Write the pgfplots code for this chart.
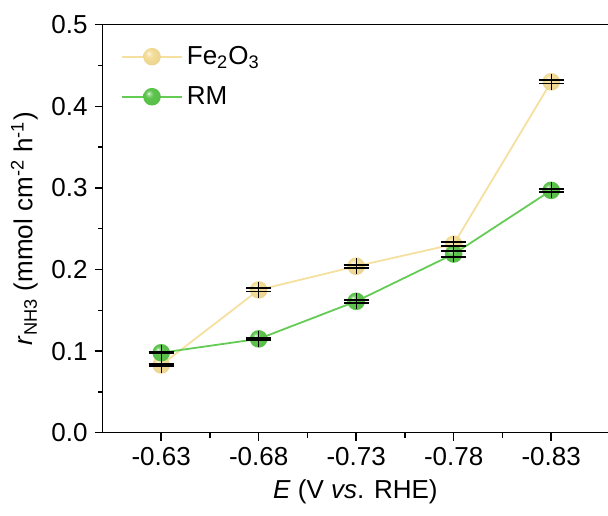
\documentclass[border=0pt]{standalone}
\usepackage{pgfplots}
\pgfplotsset{compat=1.18}
\usepackage{fontspec}
\setmainfont{Liberation Sans}
\usetikzlibrary{plotmarks}
\definecolor{feY}{RGB}{243,220,150}
\definecolor{feL}{RGB}{245,224,160}
\definecolor{rmG}{RGB}{92,196,76}
\definecolor{rmL}{RGB}{100,204,84}
\pgfdeclareradialshading{feshade}{\pgfpoint{-10bp}{10bp}}{color(0bp)=(white); color(4bp)=(feY!60!white); color(12bp)=(feY); color(50bp)=(feY!92!black)}
\pgfdeclareradialshading{rmshade}{\pgfpoint{-10bp}{10bp}}{color(0bp)=(white); color(4bp)=(rmG!60!white); color(12bp)=(rmG); color(50bp)=(rmG!92!black)}
\pgfdeclareplotmark{feball}{\pgfpathcircle{\pgfpointorigin}{\pgfplotmarksize}\pgfshadepath{feshade}{0}\pgfusepath{}}
\pgfdeclareplotmark{rmball}{\pgfpathcircle{\pgfpointorigin}{\pgfplotmarksize}\pgfshadepath{rmshade}{0}\pgfusepath{}}
\pgfplotstableread{
x y e
0 0.083 0.001
1 0.175 0.002
2 0.204 0.002
3 0.231 0.0025
4 0.430 0.002
}\fedata
\pgfplotstableread{
x y e
0 0.098 0.001
1 0.115 0.0015
2 0.161 0.002
3 0.219 0.004
4 0.297 0.002
}\rmdata
\pgfplotsset{mybox/.style={
  at={(51.35pt,41.15pt)}, anchor=south west,
  scale only axis, width=252.65pt, height=204pt,
  xmin=-0.6, xmax=4.583, ymin=0, ymax=0.5}}
\begin{document}
\begin{tikzpicture}
\useasboundingbox (0,0) rectangle (304pt,257.5pt);
\begin{axis}[
  mybox,
  axis x line=box, axis y line=left,
  axis line style={-, line width=0.75pt, black},
  every tick/.style={black, line width=0.75pt},
  tick align=outside,
  xtick={0,1,2,3,4},
  xticklabels={-0.63,-0.68,-0.73,-0.78,-0.83},
  minor xtick={0.5,1.5,2.5,3.5},
  xtick pos=bottom,
  ytick={0,0.1,0.2,0.3,0.4,0.5},
  minor ytick={0.05,0.15,0.25,0.35,0.45},
  major tick length=4pt, minor tick length=2.4pt,
  yticklabel style={/pgf/number format/fixed, /pgf/number format/fixed zerofill, /pgf/number format/precision=1},
  /pgf/number format/assume math mode=true,
  tick label style={font=\fontsize{13}{15}\selectfont},
  label style={font=\fontsize{13}{15}\selectfont},
  xlabel={\textit{E} (V \textit{vs}. RHE)},
  ylabel={\textit{r}\textsubscript{NH3} (mmol cm\textsuperscript{-2} h\textsuperscript{-1})},
  legend style={at={(axis description cs:0,1)}, anchor=north west, xshift=6pt, yshift=-6.5pt,
    draw=none, fill=none, font=\fontsize{13}{15}\selectfont, row sep=5.5pt},
  legend cell align=left,
  legend image code/.code={\draw[#1, mark repeat=2, mark phase=2] plot coordinates {(0pt,0pt) (15pt,0pt) (30pt,0pt)};},
]
\addplot[feL, line width=0.9pt, mark=feball, mark size=4.4pt] table[x=x, y=y] {\fedata};
\addlegendentry{Fe\textsubscript{2}O\textsubscript{3}}
\addplot[rmL, line width=0.9pt, mark=rmball, mark size=4.4pt] table[x=x, y=y] {\rmdata};
\addlegendentry{RM}
\end{axis}
\begin{axis}[
  mybox, hide axis, clip=false,
  error bars/error bar style={draw=black, line width=0.6pt},
  error bars/error mark options={rotate=90, draw=black, line width=0.9pt, mark size=6.25pt},
]
\addplot[black, only marks, mark=|, mark size=4pt, mark options={black, line width=0.6pt},
  error bars/.cd, y dir=both, y explicit] table[x=x, y=y, y error=e] {\fedata};
\addplot[black, only marks, mark=|, mark size=4pt, mark options={black, line width=0.6pt},
  error bars/.cd, y dir=both, y explicit] table[x=x, y=y, y error=e] {\rmdata};
\end{axis}
\end{tikzpicture}
\end{document}
